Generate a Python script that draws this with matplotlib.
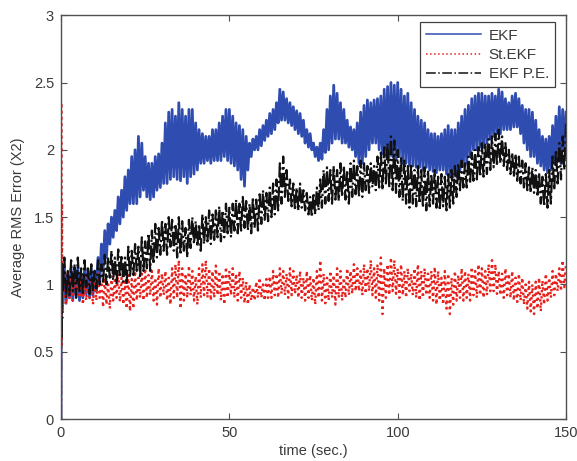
import numpy as np
import matplotlib
matplotlib.use("Agg")
import matplotlib.pyplot as plt

# ---------------- data ----------------
# Each band series is given as an upper and lower value per second (t = 0..150)
t_sec = list(range(0, 151))

ekf_hi = [1.10, 1.12, 1.08, 1.12, 1.10, 1.13, 1.08, 1.12, 1.10, 1.12,
          1.10, 1.20, 1.30, 1.40, 1.45, 1.50, 1.55, 1.65, 1.70, 1.80,
          1.85, 1.95, 2.00, 2.10, 2.05, 1.95, 1.90, 1.90, 1.95, 1.97,
          2.05, 2.20, 2.28, 2.30, 2.25, 2.35, 2.30, 2.25, 2.30, 2.30,
          2.20, 2.15, 2.12, 2.10, 2.10, 2.15, 2.15, 2.20, 2.25, 2.30,
          2.30, 2.25, 2.20, 2.18, 2.15, 2.10, 2.05, 2.08, 2.10, 2.15,
          2.18, 2.22, 2.27, 2.30, 2.35, 2.45, 2.43, 2.38, 2.35, 2.32,
          2.29, 2.27, 2.22, 2.15, 2.12, 2.05, 2.02, 2.05, 2.15, 2.30,
          2.40, 2.48, 2.42, 2.35, 2.30, 2.22, 2.17, 2.15, 2.20, 2.28,
          2.33, 2.37, 2.35, 2.37, 2.38, 2.40, 2.45, 2.47, 2.50, 2.48,
          2.50, 2.45, 2.40, 2.42, 2.35, 2.30, 2.25, 2.22, 2.20, 2.15,
          2.12, 2.12, 2.10, 2.12, 2.15, 2.18, 2.15, 2.15, 2.20, 2.25,
          2.30, 2.33, 2.38, 2.40, 2.42, 2.42, 2.40, 2.40, 2.42, 2.40,
          2.45, 2.43, 2.38, 2.35, 2.40, 2.42, 2.38, 2.33, 2.30, 2.30,
          2.28, 2.22, 2.15, 2.10, 2.08, 2.10, 2.18, 2.25, 2.32, 2.30,
          2.28]
ekf_lo = [0.88, 0.86, 0.90, 0.88, 0.92, 0.88, 0.90, 0.93, 0.90, 0.92,
          0.95, 1.00, 1.10, 1.20, 1.30, 1.35, 1.40, 1.45, 1.50, 1.55,
          1.60, 1.60, 1.60, 1.65, 1.70, 1.65, 1.63, 1.65, 1.70, 1.72,
          1.75, 1.75, 1.78, 1.80, 1.78, 1.77, 1.80, 1.75, 1.80, 1.82,
          1.85, 1.90, 1.90, 1.92, 1.90, 1.92, 1.92, 1.92, 1.95, 1.92,
          1.90, 1.88, 1.85, 1.78, 1.73, 1.85, 1.95, 2.00, 2.00, 2.03,
          2.07, 2.10, 2.12, 2.15, 2.20, 2.22, 2.22, 2.20, 2.18, 2.15,
          2.12, 2.10, 2.05, 2.02, 2.00, 1.95, 1.92, 1.93, 1.98, 2.00,
          2.05, 2.08, 2.08, 2.05, 2.05, 2.02, 2.00, 1.95, 1.90, 1.90,
          1.95, 2.00, 2.05, 2.05, 2.00, 1.97, 1.95, 1.95, 1.95, 1.93,
          1.95, 1.90, 1.90, 1.88, 1.88, 1.87, 1.87, 1.86, 1.87, 1.85,
          1.84, 1.83, 1.85, 1.85, 1.82, 1.80, 1.80, 1.80, 1.85, 1.88,
          1.90, 1.95, 2.00, 2.00, 2.02, 2.02, 2.05, 2.08, 2.10, 2.12,
          2.12, 2.15, 2.15, 2.15, 2.17, 2.17, 2.12, 2.05, 2.00, 1.95,
          1.95, 1.90, 1.88, 1.85, 1.83, 1.85, 1.90, 1.92, 1.90, 2.00,
          2.05]

st_hi = [1.00, 1.05, 1.10, 1.05, 1.08, 1.02, 1.06, 1.00, 1.07, 1.03,
         1.05, 1.08, 1.02, 1.05, 1.00, 1.06, 1.03, 1.08, 1.05, 1.02,
         1.07, 1.04, 1.10, 1.05, 1.08, 1.12, 1.07, 1.10, 1.05, 1.12,
         1.08, 1.10, 1.05, 1.12, 1.15, 1.18, 1.12, 1.08, 1.14, 1.10,
         1.06, 1.12, 1.15, 1.18, 1.12, 1.10, 1.14, 1.10, 1.08, 1.13,
         1.10, 1.12, 1.08, 1.10, 1.05, 1.02, 1.00, 0.98, 1.02, 1.05,
         1.00, 1.04, 1.06, 1.10, 1.08, 1.12, 1.10, 1.08, 1.12, 1.10,
         1.07, 1.10, 1.05, 1.10, 1.07, 1.05, 1.10, 1.18, 1.08, 1.05,
         1.10, 1.07, 1.12, 1.10, 1.05, 1.12, 1.10, 1.15, 1.12, 1.10,
         1.15, 1.12, 1.18, 1.12, 1.15, 1.20, 1.12, 1.15, 1.20, 1.18,
         1.12, 1.15, 1.10, 1.12, 1.08, 1.12, 1.15, 1.10, 1.12, 1.08,
         1.10, 1.13, 1.10, 1.05, 1.10, 1.08, 1.05, 1.10, 1.07, 1.12,
         1.10, 1.08, 1.13, 1.10, 1.15, 1.12, 1.10, 1.15, 1.18, 1.15,
         1.10, 1.08, 1.12, 1.08, 1.10, 1.05, 1.08, 1.05, 1.00, 1.02,
         1.00, 1.02, 1.05, 1.03, 1.08, 1.05, 1.10, 1.08, 1.12, 1.18,
         1.15]
st_lo = [0.80, 0.85, 0.90, 0.88, 0.92, 0.90, 0.85, 0.88, 0.90, 0.85,
         0.88, 0.90, 0.83, 0.85, 0.82, 0.88, 0.90, 0.87, 0.85, 0.82,
         0.80, 0.82, 0.88, 0.90, 0.88, 0.90, 0.92, 0.88, 0.85, 0.90,
         0.92, 0.88, 0.85, 0.90, 0.90, 0.82, 0.88, 0.90, 0.92, 0.88,
         0.85, 0.90, 0.92, 0.90, 0.88, 0.90, 0.92, 0.88, 0.85, 0.90,
         0.92, 0.90, 0.88, 0.90, 0.86, 0.85, 0.88, 0.88, 0.90, 0.90,
         0.88, 0.90, 0.90, 0.92, 0.90, 0.93, 0.92, 0.90, 0.92, 0.93,
         0.90, 0.90, 0.88, 0.90, 0.88, 0.85, 0.90, 0.88, 0.86, 0.88,
         0.90, 0.85, 0.90, 0.88, 0.90, 0.92, 0.93, 0.95, 0.95, 0.92,
         0.93, 0.95, 0.92, 0.90, 0.88, 0.78, 0.90, 0.92, 0.95, 0.93,
         0.90, 0.92, 0.90, 0.95, 0.92, 0.90, 0.88, 0.90, 0.92, 0.90,
         0.88, 0.85, 0.88, 0.85, 0.82, 0.78, 0.85, 0.88, 0.90, 0.88,
         0.90, 0.88, 0.92, 0.90, 0.92, 0.90, 0.92, 0.95, 0.95, 0.93,
         0.92, 0.90, 0.92, 0.90, 0.88, 0.87, 0.88, 0.85, 0.82, 0.80,
         0.78, 0.82, 0.80, 0.85, 0.88, 0.90, 0.92, 0.95, 0.95, 0.98,
         0.92]

pe_hi = [1.15, 1.20, 1.10, 1.18, 1.15, 1.20, 1.12, 1.18, 1.12, 1.15,
         1.10, 1.18, 1.15, 1.22, 1.20, 1.25, 1.20, 1.26, 1.22, 1.20,
         1.28, 1.25, 1.30, 1.28, 1.35, 1.32, 1.38, 1.40, 1.45, 1.42,
         1.48, 1.45, 1.50, 1.48, 1.45, 1.50, 1.47, 1.42, 1.48, 1.50,
         1.47, 1.45, 1.52, 1.50, 1.55, 1.52, 1.55, 1.58, 1.55, 1.60,
         1.57, 1.60, 1.63, 1.60, 1.65, 1.62, 1.60, 1.65, 1.63, 1.67,
         1.70, 1.68, 1.72, 1.75, 1.78, 1.90, 1.95, 1.85, 1.78, 1.75,
         1.72, 1.75, 1.70, 1.68, 1.65, 1.68, 1.72, 1.78, 1.85, 1.87,
         1.85, 1.88, 1.85, 1.90, 1.88, 1.85, 1.90, 1.92, 1.88, 1.92,
         1.90, 1.88, 1.90, 1.88, 1.95, 1.98, 2.02, 2.05, 2.10, 2.07,
         2.00, 1.95, 1.92, 1.88, 1.90, 1.85, 1.88, 1.85, 1.87, 1.85,
         1.82, 1.85, 1.80, 1.82, 1.80, 1.82, 1.85, 1.88, 1.90, 1.92,
         1.90, 1.95, 1.98, 2.00, 2.02, 2.05, 2.05, 2.08, 2.10, 2.12,
         2.15, 2.10, 2.05, 2.00, 1.98, 1.97, 1.95, 1.92, 1.90, 1.87,
         1.87, 1.85, 1.83, 1.80, 1.82, 1.85, 1.95, 2.00, 2.05, 2.10,
         2.20]
pe_lo = [0.95, 0.90, 0.92, 0.95, 0.90, 0.95, 0.92, 0.98, 0.93, 0.95,
         0.97, 1.00, 1.02, 1.00, 1.05, 1.03, 1.00, 1.05, 1.02, 1.00,
         1.05, 1.07, 1.10, 1.05, 1.10, 1.12, 1.10, 1.15, 1.20, 1.22,
         1.25, 1.22, 1.28, 1.25, 1.20, 1.22, 1.25, 1.20, 1.27, 1.30,
         1.28, 1.25, 1.30, 1.32, 1.30, 1.33, 1.35, 1.32, 1.35, 1.38,
         1.35, 1.40, 1.38, 1.40, 1.42, 1.40, 1.38, 1.42, 1.40, 1.45,
         1.48, 1.47, 1.50, 1.52, 1.55, 1.60, 1.65, 1.62, 1.58, 1.55,
         1.55, 1.57, 1.55, 1.52, 1.50, 1.52, 1.55, 1.57, 1.60, 1.62,
         1.60, 1.63, 1.62, 1.65, 1.63, 1.60, 1.65, 1.67, 1.65, 1.65,
         1.70, 1.68, 1.72, 1.70, 1.72, 1.70, 1.75, 1.72, 1.70, 1.68,
         1.65, 1.62, 1.60, 1.57, 1.60, 1.58, 1.60, 1.57, 1.55, 1.58,
         1.60, 1.57, 1.55, 1.58, 1.55, 1.57, 1.60, 1.65, 1.70, 1.72,
         1.72, 1.75, 1.77, 1.78, 1.80, 1.80, 1.82, 1.85, 1.87, 1.88,
         1.90, 1.88, 1.85, 1.82, 1.80, 1.77, 1.75, 1.72, 1.70, 1.68,
         1.68, 1.65, 1.60, 1.58, 1.57, 1.60, 1.70, 1.75, 1.78, 1.85,
         1.90]

# start-up transient at t = 0 (first samples)
start_t = [0.0, 0.1, 0.2, 0.3, 0.4]
ekf_start = [0.0, 1.05, 0.85, 1.00, 0.95]
st_start = [0.0, 2.35, 0.55, 1.60, 0.75]
pe_start = [0.0, 1.15, 0.60, 1.10, 0.95]

legend_labels = ["EKF", "St.EKF", "EKF P.E."]
x_ticks = [0, 50, 100, 150]
y_ticks = [0, 0.5, 1, 1.5, 2, 2.5, 3]
y_tick_labels = ["0", "0.5", "1", "1.5", "2", "2.5", "3"]


def band_series(start_x, start_y, hi, lo, t):
    """Interleave the read upper/lower values: upper at t, lower half a step later."""
    xs = list(start_x)
    ys = list(start_y)
    for i, ti in enumerate(t):
        xs.append(ti + 0.45 if i == 0 else ti)
        ys.append(hi[i])
        if i < len(t) - 1:
            xs.append(ti + 0.5)
            ys.append(lo[i])
    return np.array(xs), np.array(ys)


plt.rcParams['font.family'] = ['Liberation Sans', 'DejaVu Sans']
txt = '#3a3a3a'
axc = '#505050'

fig = plt.figure(figsize=(5.77, 4.61), dpi=100)
ax = fig.add_axes([0.1057, 0.091, 0.8753, 0.876])

x1, y1 = band_series(start_t, ekf_start, ekf_hi, ekf_lo, t_sec)
x2, y2 = band_series(start_t, st_start, st_hi, st_lo, t_sec)
x3, y3 = band_series(start_t, pe_start, pe_hi, pe_lo, t_sec)

ax.plot(x1, y1, color='#2f4db0', lw=2.0, ls='-', label=legend_labels[0])
ax.plot(x2, y2, color='#e8211d', lw=1.7, ls=':', label=legend_labels[1])
ax.plot(x3, y3, color='#111111', lw=1.6, ls='-.', label=legend_labels[2])

ax.set_xlim(0, 150)
ax.set_ylim(0, 3)
ax.set_xticks(x_ticks)
ax.set_yticks(y_ticks)
ax.set_yticklabels(y_tick_labels)
ax.tick_params(direction='in', length=4, width=0.8, color=axc, labelcolor=txt,
               labelsize=10.5, top=True, right=True, pad=5)
for s in ax.spines.values():
    s.set_color(axc)
    s.set_linewidth(1.0)

ax.set_xlabel('time (sec.)', fontsize=10.5, color=txt, labelpad=3)
ax.set_ylabel('Average RMS Error (X2)', fontsize=10.5, color=txt, labelpad=6)

leg = ax.legend(loc='upper right', bbox_to_anchor=(0.978, 0.982), fancybox=False,
                framealpha=1, edgecolor='#404040', fontsize=11, handlelength=3.6,
                borderpad=0.4, labelspacing=0.35, handletextpad=0.5,
                borderaxespad=0)
leg.get_frame().set_linewidth(0.9)
for line in leg.get_lines():
    line.set_linewidth(1.1)
for t in leg.get_texts():
    t.set_color(txt)

fig.savefig('out.png', dpi=100)
